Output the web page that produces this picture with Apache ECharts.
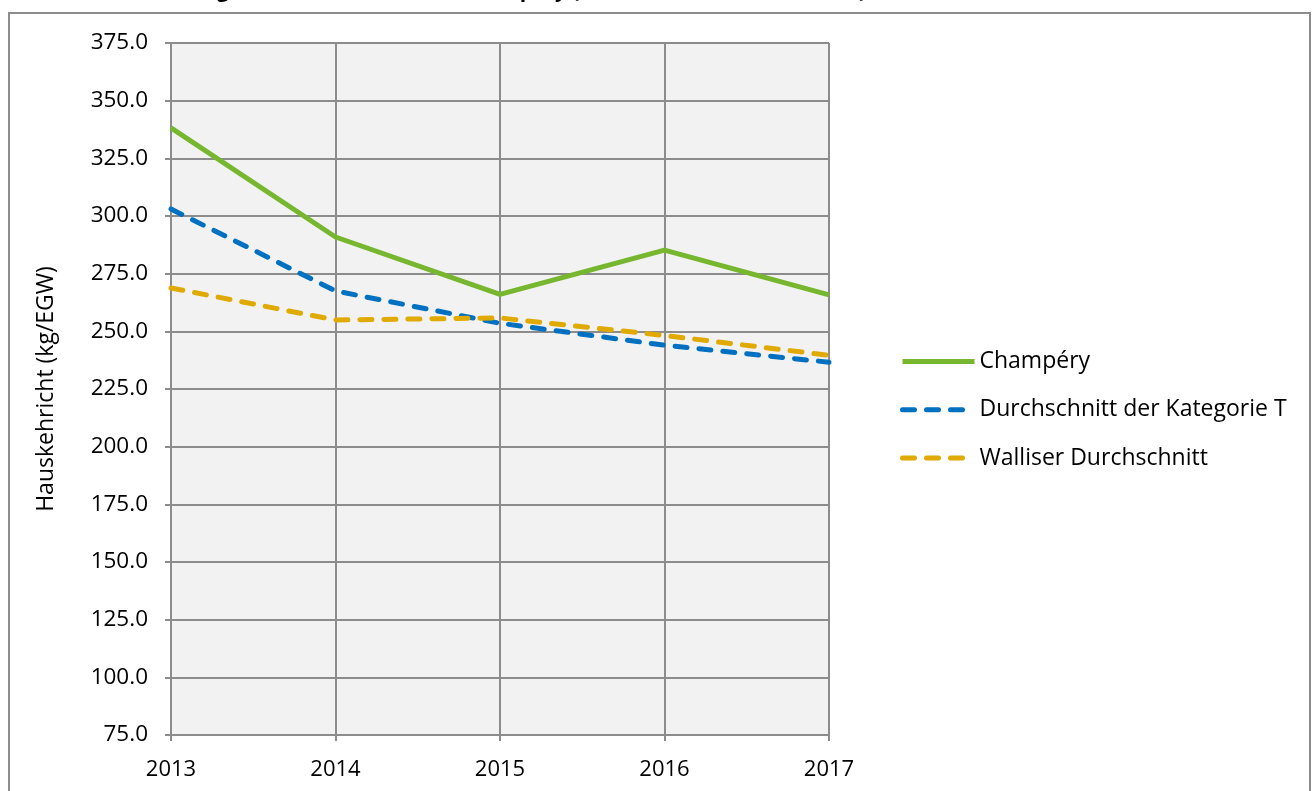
<!DOCTYPE html>
<html lang="de">
<head>
    <meta charset="utf-8">
    <title>Hauskehricht Champéry</title>
    <style>
        html, body { margin: 0; padding: 0; background: #fff; }
        #main { width: 1314px; height: 791px; }
    </style>
</head>
<body>
<div id="main"></div>
<script src="https://cdn.jsdelivr.net/npm/echarts@6/dist/echarts.min.js"></script>
<script type="text/javascript">
    // Jahre und Werte (kg/EGW)
    var years = ['2013', '2014', '2015', '2016', '2017'];
    var champery = [338.2, 290.9, 266.0, 285.2, 265.8];
    var kategorieT = [303.0, 267.5, 253.5, 244.0, 236.6];
    var wallis = [268.8, 254.9, 255.8, 248.2, 239.6];

    var font = '"Open Sans", "Noto Sans", sans-serif';

    var myChart = echarts.init(document.getElementById('main'));
    var option = {
        backgroundColor: '#ffffff',
        animation: false,
        title: {
            text: 'Entwicklung des Hauskehrichts in Champéry (Durchschnitt 2013 bis 2017)',
            left: 95,
            top: -24,
            textStyle: { fontFamily: font, fontSize: 21, fontWeight: 'bold', color: '#000' }
        },
        graphic: [{
            type: 'rect',
            shape: { x: 9, y: 13, width: 1301, height: 800 },
            style: { fill: '#fff', stroke: '#8c8c8c', lineWidth: 2 },
            z: -1,
            silent: true
        }],
        legend: {
            orient: 'vertical',
            left: 895,
            top: 345,
            itemWidth: 72,
            itemHeight: 29,
            itemGap: 25,
            itemStyle: { opacity: 0 },
            lineStyle: { width: 5 },
            textStyle: { fontFamily: font, fontSize: 23, color: '#000' },
            data: ['Champéry', 'Durchschnitt der Kategorie T', 'Walliser Durchschnitt']
        },
        grid: {
            left: 171,
            right: 485,
            top: 43,
            bottom: 56,
            show: true,
            backgroundColor: '#f2f2f2',
            borderWidth: 0
        },
        xAxis: {
            type: 'category',
            data: years,
            boundaryGap: false,
            axisLine: { show: true, lineStyle: { color: '#8c8c8c', width: 2 } },
            axisTick: { show: true, alignWithLabel: true, length: 6, lineStyle: { color: '#8c8c8c', width: 2 } },
            axisLabel: { fontFamily: font, fontSize: 22, color: '#000', margin: 24 },
            splitLine: { show: true, lineStyle: { color: '#8c8c8c', width: 2 } }
        },
        yAxis: {
            type: 'value',
            min: 75,
            max: 375,
            interval: 25,
            name: 'Hauskehricht (kg/EGW)',
            nameLocation: 'middle',
            nameGap: 113,
            nameTextStyle: { fontFamily: font, fontSize: 23, color: '#000' },
            axisLine: { show: true, lineStyle: { color: '#8c8c8c', width: 2 } },
            axisTick: { show: true, length: 6, lineStyle: { color: '#8c8c8c', width: 2 } },
            axisLabel: {
                fontFamily: font, fontSize: 22.5, color: '#000', margin: 23,
                formatter: function (v) { return v.toFixed(1); }
            },
            splitLine: { show: true, lineStyle: { color: '#8c8c8c', width: 2 } }
        },
        series: [{
            name: 'Champéry',
            type: 'line',
            data: champery,
            symbol: 'none',
            color: '#77b72f',
            lineStyle: { width: 5, color: '#77b72f' }
        }, {
            name: 'Durchschnitt der Kategorie T',
            type: 'line',
            data: kategorieT,
            symbol: 'none',
            color: '#0070c0',
            lineStyle: { width: 5, color: '#0070c0', type: [12, 12], cap: 'round' }
        }, {
            name: 'Walliser Durchschnitt',
            type: 'line',
            data: wallis,
            symbol: 'none',
            color: '#e0aa00',
            lineStyle: { width: 5, color: '#e0aa00', type: [12, 12], cap: 'round' }
        }]
    };
    myChart.setOption(option);
</script>
</body>
</html>
